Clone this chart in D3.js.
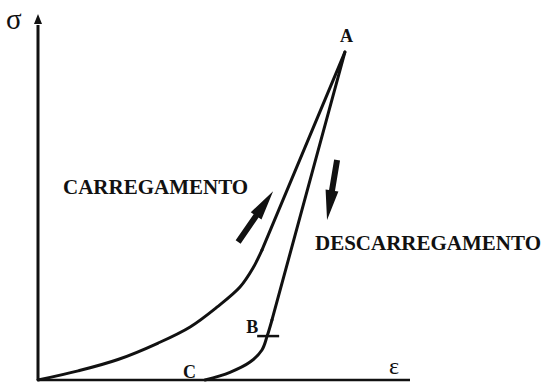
<!DOCTYPE html>
<html>
<head>
<meta charset="utf-8">
<script src="https://cdn.jsdelivr.net/npm/d3@7/dist/d3.min.js"></script>
<style>
  body { margin: 0; background: #fff; }
  .lbl { font-family: "Liberation Serif", "Times New Roman", serif; font-weight: bold; fill: #111; }
</style>
</head>
<body>
<div class="chart"></div>
<script>
// loading curve (strain, stress), last point is A
var loadEps = [0, 10.8, 21.5, 32.3, 40.9, 48.1, 54.3, 57.8, 60.2, 82.5];
var loadSig = [0, 2.5, 5.6, 10.1, 14.5, 19.9, 25.4, 30.6, 35.5, 89.6];

// unloading curve from A down to C
var unloadEps = [82.5, 62.9, 61.6, 60.2, 57.0, 51.6, 44.9];
var unloadSig = [89.6, 16.4, 12.0, 8.2, 4.9, 2.1, 0];

// named points
var pointNames = ["A", "B", "C"];
var pointEps = [82.5, 61.6, 44.9];
var pointSig = [89.6, 12.0, 0];

// direction arrows [from, to]
var arrowEps = [[53.8, 63.2], [80.4, 77.7]];
var arrowSig = [[37.7, 51.6], [60.1, 43.7]];
var arrowText = ["CARREGAMENTO", "DESCARREGAMENTO"];

function scatter() {
    var width = 544, height = 382;

    var xScale = d3.scaleLinear().domain([0, 100]).range([38, 410]);
    var yScale = d3.scaleLinear().domain([0, 100]).range([380, 14]);

    var svg = d3.select(".chart").append("svg")
        .attr("width", width)
        .attr("height", height);

    svg.append("rect").attr("width", width).attr("height", height).attr("fill", "#fff");

    // axes
    svg.append("line")
        .attr("x1", xScale(0)).attr("y1", yScale(0))
        .attr("x2", xScale(0)).attr("y2", yScale(97))
        .attr("stroke", "#111").attr("stroke-width", 3);
    svg.append("path")
        .attr("d", "M" + (xScale(0) - 4) + "," + (yScale(100) + 10) + "L" + xScale(0) + "," + yScale(100) +
            "L" + (xScale(0) + 4) + "," + (yScale(100) + 10) + "Z")
        .attr("fill", "#111");
    svg.append("line")
        .attr("x1", xScale(0)).attr("y1", yScale(0))
        .attr("x2", xScale(100)).attr("y2", yScale(0))
        .attr("stroke", "#111").attr("stroke-width", 2.5);

    svg.append("text").attr("x", 6).attr("y", 29)
        .style("font-family", "'Liberation Serif', serif").style("font-size", "29px")
        .attr("fill", "#111").text("σ");
    svg.append("text").attr("x", 389).attr("y", 374)
        .style("font-family", "'Liberation Serif', serif").style("font-size", "24px")
        .attr("fill", "#111").text("ε");

    var curve = d3.line()
        .x(function (d) { return xScale(d[0]); })
        .y(function (d) { return yScale(d[1]); })
        .curve(d3.curveCatmullRom.alpha(0.5));
    var straight = d3.line()
        .x(function (d) { return xScale(d[0]); })
        .y(function (d) { return yScale(d[1]); });

    var load = d3.zip(loadEps, loadSig);
    var unload = d3.zip(unloadEps, unloadSig);

    function stroke(p) {
        return p.attr("fill", "none").attr("stroke", "#111")
            .attr("stroke-width", 3).attr("stroke-linecap", "round");
    }

    // loading: curved part then straight up to A
    stroke(svg.append("path").attr("d", curve(load.slice(0, load.length - 1))));
    stroke(svg.append("path").attr("d", straight(load.slice(load.length - 2))));
    // unloading: straight from A then curved down to C
    stroke(svg.append("path").attr("d", straight(unload.slice(0, 2))));
    stroke(svg.append("path").attr("d", curve(unload.slice(1))));

    // B tick
    svg.append("line")
        .attr("x1", xScale(pointEps[1]) - 10).attr("x2", xScale(pointEps[1]) + 12)
        .attr("y1", yScale(pointSig[1])).attr("y2", yScale(pointSig[1]))
        .attr("stroke", "#111").attr("stroke-width", 2.5);

    // point labels
    var labelOff = [[-5, -10], [-21, -3], [-22, -2]];
    svg.selectAll(".pt")
        .data(pointNames)
        .enter().append("text")
        .attr("class", "lbl pt")
        .attr("x", function (d, i) { return xScale(pointEps[i]) + labelOff[i][0]; })
        .attr("y", function (d, i) { return yScale(pointSig[i]) + labelOff[i][1]; })
        .style("font-size", "18px")
        .text(function (d) { return d; });

    // arrows
    arrowEps.forEach(function (e, i) {
        var x0 = xScale(e[0]), y0 = yScale(arrowSig[i][0]);
        var x1 = xScale(e[1]), y1 = yScale(arrowSig[i][1]);
        var len = Math.hypot(x1 - x0, y1 - y0);
        var ux = (x1 - x0) / len, uy = (y1 - y0) / len;
        var nx = -uy, ny = ux;
        var head = 30, sw = 3, hw = 6.5;
        var bx = x1 - ux * head, by = y1 - uy * head;
        var pts = [
            [x0 + nx * sw, y0 + ny * sw],
            [bx + nx * sw, by + ny * sw],
            [bx + nx * hw, by + ny * hw],
            [x1, y1],
            [bx - nx * hw, by - ny * hw],
            [bx - nx * sw, by - ny * sw],
            [x0 - nx * sw, y0 - ny * sw]
        ];
        svg.append("path")
            .attr("d", "M" + pts.join("L") + "Z")
            .attr("fill", "#111");
    });

    // captions
    var capX = [63, 315], capY = [194, 250], capSize = [21, 21];
    svg.selectAll(".cap")
        .data(arrowText)
        .enter().append("text")
        .attr("class", "lbl cap")
        .attr("x", function (d, i) { return capX[i]; })
        .attr("y", function (d, i) { return capY[i]; })
        .style("font-size", function (d, i) { return capSize[i] + "px"; })
        .text(function (d) { return d; });
}
scatter();
</script>
</body>
</html>
